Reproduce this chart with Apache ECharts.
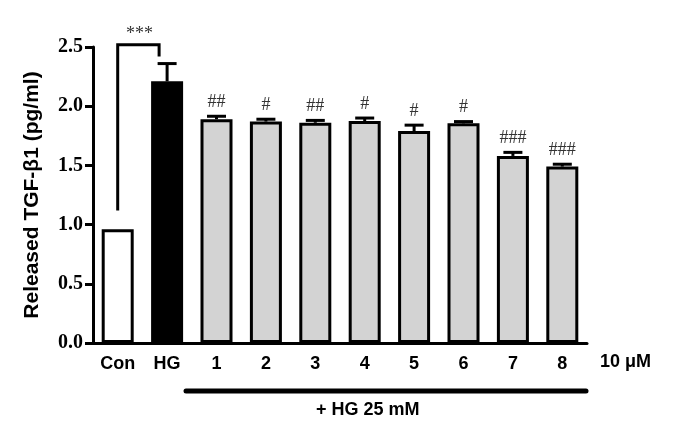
<!DOCTYPE html>
<html>
<head>
<meta charset="utf-8">
<script src="https://cdn.jsdelivr.net/npm/echarts@6/dist/echarts.min.js"></script>
<style>
  html, body { margin: 0; padding: 0; background: #fff; }
  #chart { width: 685px; height: 443px; }
</style>
</head>
<body>
<div id="chart"></div>
<script>
const categories = ['Con', 'HG', '1', '2', '3', '4', '5', '6', '7', '8']
const means = [0.96, 2.21, 1.89, 1.87, 1.86, 1.875, 1.79, 1.855, 1.58, 1.49]
const errors = [0, 0.15, 0.025, 0.02, 0.02, 0.025, 0.05, 0.015, 0.03, 0.02]
const marks = ['', '', '##', '#', '##', '#', '#', '#', '###', '###']
const yTicks = [0, 0.5, 1.0, 1.5, 2.0, 2.5]
// bracket Con -> HG: [left bottom, top, right bottom]
const bracket = [1.12, 2.52, 2.42]

const fills = ['#ffffff', '#000000', '#d3d3d3', '#d3d3d3', '#d3d3d3', '#d3d3d3', '#d3d3d3', '#d3d3d3', '#d3d3d3', '#d3d3d3']

const chart = echarts.init(document.getElementById('chart'))

const option = {
  animation: false,
  backgroundColor: '#fff',
  grid: { left: 93, right: 98, top: 47, bottom: 100 },
  xAxis: {
    type: 'category',
    data: categories,
    axisLine: { lineStyle: { color: '#000', width: 3 } },
    axisTick: { alignWithLabel: true, length: 8, lineStyle: { color: '#000', width: 3 } },
    axisLabel: {
      color: '#000', fontFamily: 'Liberation Sans', fontWeight: 'bold', fontSize: 18, margin: 12
    }
  },
  yAxis: {
    type: 'value',
    min: 0,
    max: 2.5,
    interval: 0.5,
    name: 'Released TGF-β1 (pg/ml)',
    nameLocation: 'middle',
    nameGap: 50,
    nameTextStyle: { color: '#000', fontFamily: 'Liberation Sans', fontWeight: 'bold', fontSize: 21 },
    axisLine: { show: true, lineStyle: { color: '#000', width: 3 } },
    axisTick: { show: true, length: 8, lineStyle: { color: '#000', width: 3 } },
    splitLine: { show: false },
    axisLabel: {
      color: '#000', fontFamily: 'Liberation Serif', fontWeight: 'bold', fontSize: 20, margin: 10,
      formatter: v => yTicks.includes(v) ? v.toFixed(1) : ''
    }
  },
  series: [
    {
      type: 'bar',
      barWidth: 32,
      data: means.map((v, i) => ({
        value: v,
        itemStyle: { color: fills[i], borderColor: '#000', borderWidth: 3 }
      })),
      z: 2
    },
    {
      type: 'custom',
      z: 3,
      data: means.map((v, i) => [i, v, errors[i]]),
      renderItem: (params, api) => {
        const i = api.value(0)
        const base = api.coord([i, api.value(1)])
        const top = api.coord([i, api.value(1) + api.value(2)])
        const x = base[0]
        const children = []
        if (api.value(2) > 0) {
          children.push(
            { type: 'line', shape: { x1: x, y1: base[1], x2: x, y2: top[1] }, style: { stroke: '#000', lineWidth: 3 } },
            { type: 'line', shape: { x1: x - 9.5, y1: top[1], x2: x + 9.5, y2: top[1] }, style: { stroke: '#000', lineWidth: 3 } }
          )
        }
        if (marks[i]) {
          children.push({
            type: 'text',
            style: {
              x: x, y: top[1] - 14, text: marks[i], fill: '#333',
              font: '18px "Liberation Serif"', align: 'center', verticalAlign: 'middle'
            }
          })
        }
        return { type: 'group', children }
      }
    },
    {
      type: 'custom',
      z: 3,
      data: [[0, 1, bracket[0], bracket[1], bracket[2]]],
      renderItem: (params, api) => {
        const a = api.coord([api.value(0), api.value(2)])
        const t = api.coord([api.value(0), api.value(3)])
        const b = api.coord([api.value(1), api.value(4)])
        const bt = api.coord([api.value(1), api.value(3)])
        const xr = b[0] - 8
        return {
          type: 'group',
          children: [
            {
              type: 'polyline',
              shape: { points: [[a[0], a[1]], [t[0], t[1]], [xr, bt[1]], [xr, b[1]]] },
              style: { stroke: '#000', lineWidth: 3, fill: null }
            },
            {
              type: 'text',
              style: {
                x: (t[0] + xr) / 2 + 1, y: t[1] - 10, text: '***', fill: '#333',
                font: '18px "Liberation Serif"', align: 'center', verticalAlign: 'middle'
              }
            }
          ]
        }
      }
    }
  ],
  graphic: [
    {
      type: 'text', left: 600, top: 353,
      style: { text: '10 μM', fill: '#000', font: 'bold 18px "Liberation Sans"' }
    },
    {
      type: 'line', shape: { x1: 186, y1: 391, x2: 586, y2: 391 },
      style: { stroke: '#000', lineWidth: 5, lineCap: 'round' }
    },
    {
      type: 'text', left: 316, top: 401,
      style: { text: '+ HG 25 mM', fill: '#000', font: 'bold 18px "Liberation Sans"' }
    }
  ]
}

chart.setOption(option)
</script>
</body>
</html>
